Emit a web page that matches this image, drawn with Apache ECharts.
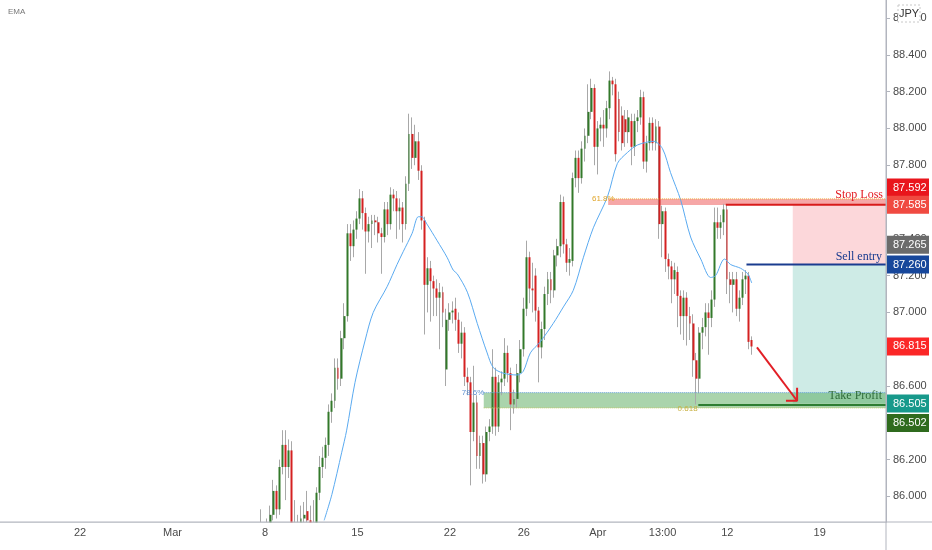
<!DOCTYPE html>
<html><head><meta charset="utf-8">
<script src="https://cdn.jsdelivr.net/npm/echarts@6/dist/echarts.min.js"></script>
<style>html,body{margin:0;padding:0;background:#fff}#c{width:932px;height:550px}</style>
</head><body><div id="c"></div>
<script>
// ---------- DATA ----------
const categoryCount = 287;
const firstIndex = 84;
const opens = [
85.70,85.80,85.76,85.83,85.90,86.03,85.93,86.16,86.28,86.16,
86.25,85.70,85.74,85.80,85.88,85.92,85.87,85.80,85.83,86.02,
86.16,86.21,86.28,86.46,86.52,86.70,86.64,86.86,86.98,87.43,
87.36,87.45,87.51,87.62,87.54,87.44,87.48,87.50,87.49,87.43,
87.41,87.56,87.48,87.64,87.62,87.55,87.57,87.48,87.70,87.97,
87.84,87.93,87.77,87.50,87.15,87.24,87.17,87.13,87.08,87.11,
86.69,86.96,87.00,87.02,86.96,86.83,86.89,86.65,86.62,86.35,
86.51,86.22,86.29,86.12,86.35,86.38,86.65,86.38,86.62,86.64,
86.78,86.67,86.50,86.53,86.67,86.80,87.02,87.30,87.13,87.20,
87.01,86.81,86.91,87.10,87.18,87.12,87.31,87.36,87.60,87.37,
87.27,87.28,87.73,87.84,87.73,87.89,87.96,88.09,88.22,87.90,
88.00,88.02,88.00,88.11,88.26,88.24,88.16,88.07,88.05,87.98,
88.04,87.90,88.04,88.06,88.17,87.82,87.92,88.03,87.92,88.01,
87.48,87.55,87.29,87.25,87.18,87.22,87.09,86.98,87.08,86.98,
86.94,86.74,86.64,86.89,86.92,87.00,86.97,87.07,87.49,87.46,
87.49,87.56,87.18,87.15,87.18,87.02,87.08,87.18,87.20,86.85];
const closes = [
85.80,85.76,85.83,85.90,86.03,85.93,86.16,86.28,86.16,86.25,
85.70,85.74,85.80,85.88,85.90,85.87,85.84,85.83,86.02,86.16,
86.21,86.28,86.46,86.52,86.70,86.64,86.86,86.98,87.43,87.36,
87.45,87.51,87.62,87.54,87.44,87.48,87.50,87.49,87.43,87.41,
87.56,87.48,87.64,87.62,87.55,87.57,87.48,87.70,87.97,87.84,
87.93,87.77,87.50,87.15,87.24,87.17,87.13,87.08,87.11,87.00,
86.96,87.00,87.01,86.96,86.83,86.89,86.65,86.62,86.35,86.51,
86.22,86.29,86.12,86.35,86.38,86.65,86.38,86.62,86.64,86.78,
86.67,86.50,86.53,86.67,86.80,87.02,87.30,87.13,87.12,87.01,
86.81,86.91,87.10,87.18,87.12,87.31,87.36,87.60,87.37,87.27,
87.29,87.73,87.84,87.73,87.89,87.96,88.09,88.22,87.90,88.00,
88.02,88.00,88.11,88.26,88.24,87.86,87.98,87.92,87.98,88.06,
87.90,88.04,88.06,88.17,87.82,87.92,88.03,87.92,88.01,87.48,
87.55,87.29,87.25,87.18,87.23,87.09,86.98,87.08,86.98,86.94,
86.74,86.64,86.89,86.92,87.00,86.97,87.07,87.49,87.46,87.49,
87.56,87.18,87.15,87.18,87.02,87.08,87.18,87.20,86.84,86.815];
const lows = [
85.62,85.68,85.70,85.78,85.87,85.88,85.90,86.12,85.98,86.10,
85.60,85.60,85.66,85.72,85.80,85.80,85.75,85.70,85.80,85.98,
86.10,86.15,86.22,86.40,86.48,86.58,86.60,86.80,86.95,87.28,
87.30,87.40,87.48,87.45,87.21,87.38,87.35,87.42,87.38,87.21,
87.38,87.42,87.45,87.55,87.40,87.45,87.38,87.45,87.66,87.78,
87.80,87.72,87.45,86.88,87.00,86.95,86.98,86.98,86.80,86.92,
86.60,86.90,86.94,86.90,86.78,86.75,86.60,86.55,86.06,86.30,
86.15,86.15,86.07,86.08,86.30,86.34,86.33,86.35,86.55,86.60,
86.62,86.36,86.45,86.48,86.62,86.76,86.98,87.05,87.00,86.95,
86.62,86.75,86.85,87.04,87.05,87.08,87.25,87.30,87.32,87.22,
87.20,87.25,87.68,87.65,87.70,87.82,87.92,88.05,87.80,87.75,
87.93,87.90,87.95,88.05,88.18,87.82,87.93,87.88,87.90,87.92,
87.80,87.85,87.98,88.02,87.78,87.76,87.88,87.88,87.88,87.40,
87.30,87.22,87.18,87.05,87.10,86.92,86.88,86.85,86.82,86.85,
86.65,86.50,86.56,86.80,86.87,86.77,86.92,87.03,87.40,87.40,
87.42,87.10,87.05,87.00,86.98,86.95,87.04,87.10,86.80,86.77];
const highs = [
85.93,85.86,85.88,85.95,86.09,86.06,86.20,86.36,86.36,86.31,
86.30,85.98,85.90,85.95,85.97,86.03,85.95,85.98,86.05,86.22,
86.27,86.32,86.50,86.56,86.75,86.75,86.90,87.05,87.48,87.48,
87.50,87.55,87.67,87.66,87.57,87.52,87.53,87.53,87.52,87.46,
87.60,87.60,87.68,87.67,87.66,87.62,87.60,87.74,88.08,88.06,
88.02,87.98,87.80,87.52,87.30,87.28,87.20,87.18,87.16,87.14,
87.02,87.05,87.06,87.08,87.00,86.95,86.92,86.70,86.65,86.71,
86.55,86.33,86.33,86.38,86.42,86.80,86.70,86.66,86.68,86.86,
86.82,86.70,86.58,86.72,86.85,87.08,87.39,87.33,87.27,87.24,
87.03,86.95,87.14,87.22,87.22,87.34,87.40,87.64,87.63,87.40,
87.35,87.76,87.88,87.88,87.93,88.00,88.24,88.27,88.24,88.04,
88.06,88.10,88.15,88.31,88.28,88.27,88.20,88.12,88.10,88.10,
88.08,88.08,88.10,88.21,88.20,87.96,88.06,88.06,88.05,88.04,
87.58,87.57,87.32,87.28,87.27,87.25,87.12,87.12,87.11,87.03,
86.99,86.78,86.92,86.97,87.05,87.05,87.12,87.57,87.57,87.53,
87.59,87.59,87.22,87.22,87.22,87.12,87.22,87.23,87.22,86.87];

// EMA: candle position and price
const emaX = [104.5,107,110.2,111.8,114.5,117.8,120.4,124.9,128.1,130.1,133,135,136.1,137.8,141.1,144.3,146.3,147.6,150.9,154.1,157.3,159.3,162.5,167,169,171.3,174.5,178.7,182,185.2,188.5,191.7,196.3,199.5,202.8,206,211.2,214.1,216.7,220,223.2,226.5,229.7,231.3,234.2,236.2,239.4,241.7,243];
const emaY = [85.87,86.01,86.24,86.36,86.62,86.85,87.00,87.14,87.26,87.33,87.43,87.52,87.52,87.48,87.39,87.30,87.23,87.21,87.11,86.94,86.78,86.70,86.67,86.66,86.68,86.78,86.84,86.94,87.03,87.12,87.30,87.46,87.63,87.81,87.87,87.91,87.93,87.89,87.76,87.61,87.41,87.29,87.19,87.20,87.29,87.26,87.24,87.21,87.16];

const xTickIndex = [25,55,85,115,145,169,193,214,235,265];
const xTickLabel = ['22','Mar','8','15','22','26','Apr','13:00','12','19'];
const yTicks = [86.0,86.2,86.4,86.6,86.8,87.0,87.2,87.4,87.6,87.8,88.0,88.2,88.4,88.6];
const yMin = 85.861, yMax = 88.698;

// trade levels (prices) and where they start (candle position)
const stopLossLevel = 87.585, entryLevel = 87.26, takeProfitLevel = 86.505, swingLowLevel = 86.497;
const stopLossStart = 234.6, entryStart = 241.3, swingLowStart = 225.7, boxStart = 256.3;
const fib618 = {start: 196.5, top: 87.617, bottom: 87.584};
const fib786 = {start: 156.2, top: 86.564, bottom: 86.481};
const arrowShaft = [[244.7, 86.81], [257.7, 86.52]];
const arrowHead = [[257.7, 86.59], [257.7, 86.52], [254.1, 86.52]];

const tagValues = [87.592, 87.585, 87.265, 87.260, 86.815, 86.505, 86.502];
// ---------- STYLE ----------
const tagColors = ['#e9151c','#f04a41','#6b6b6b','#17479b','#fb2727','#17998b','#2f6b1e'];
const tagShift = [-16, 0, -19, 0, 0, 0, 19];
const upColor = '#33792a', downColor = '#d42121', wickColor = '#a8a8a8';
const axisColor = '#b2b5be', textColor = '#4a4a4a';
const FONT = '"Liberation Sans", Arial, sans-serif';

// ---------- BUILD ----------
const chart = echarts.init(document.getElementById('c'));
const xEnd = categoryCount - 0.5;
const categories = Array.from({length: categoryCount}, (_, i) => {
  const k = xTickIndex.indexOf(i); return k >= 0 ? xTickLabel[k] : '';
});
const wickData = [], bodyData = [];
for (let i = 0; i < categoryCount; i++) {
  const k = i - firstIndex;
  if (k >= 0 && k < opens.length) {
    wickData.push([opens[k], closes[k], lows[k], highs[k]]);
    bodyData.push([opens[k], closes[k], Math.min(opens[k], closes[k]), Math.max(opens[k], closes[k])]);
  } else {
    wickData.push(['-','-','-','-']); bodyData.push(['-','-','-','-']);
  }
}
const hLine = (start, v) => [[start, v], [xEnd, v]];
const lineSeries = (data, color, width, type, z) => ({
  type: 'line', xAxisIndex: 1, yAxisIndex: 0, data, symbol: 'none', silent: true, animation: false, clip: true,
  z: z || 4, lineStyle: {color, width, type: type || 'solid'}
});

chart.setOption({
  animation: false,
  backgroundColor: '#fff',
  grid: {left: 0, right: 46, top: 0, bottom: 28, containLabel: false},
  xAxis: [
    {type: 'category', data: categories, boundaryGap: true,
     axisLine: {show: true, onZero: false, lineStyle: {color: axisColor}}, axisTick: {show: false},
     axisLabel: {interval: 0, color: textColor, fontSize: 11, fontFamily: FONT, margin: 6},
     splitLine: {show: false}},
    {type: 'value', min: -0.5, max: xEnd, show: false, axisLine: {onZero: false}}
  ],
  yAxis: {
    type: 'value', position: 'right', min: yMin, max: yMax, scale: true,
    axisLine: {show: true, onZero: false, lineStyle: {color: axisColor}},
    axisTick: {show: true, customValues: yTicks, length: 4, lineStyle: {color: axisColor}},
    axisLabel: {customValues: yTicks, formatter: v => v.toFixed(3), color: textColor, fontSize: 11, fontFamily: FONT, margin: 7},
    splitLine: {show: false}
  },
  series: [
    Object.assign(lineSeries([], 'transparent', 0), {
      z: 1,
      markArea: {silent: true, z: 1, data: [
        [{xAxis: boxStart, yAxis: stopLossLevel, itemStyle: {color: 'rgba(242,54,69,0.2)'}}, {xAxis: xEnd, yAxis: entryLevel}],
        [{xAxis: boxStart, yAxis: entryLevel, itemStyle: {color: 'rgba(8,153,129,0.2)'}}, {xAxis: xEnd, yAxis: takeProfitLevel}],
        [{xAxis: fib618.start, yAxis: fib618.top, itemStyle: {color: 'rgba(235,60,60,0.45)'}}, {xAxis: xEnd, yAxis: fib618.bottom}],
        [{xAxis: fib786.start, yAxis: fib786.top, itemStyle: {color: 'rgba(67,160,71,0.45)'}}, {xAxis: xEnd, yAxis: fib786.bottom}]
      ]}
    }),
    {type: 'candlestick', data: wickData, barWidth: 1, z: 2, silent: true, clip: true,
     itemStyle: {color: wickColor, color0: wickColor, borderColor: wickColor, borderColor0: wickColor, borderWidth: 1}},
    {type: 'candlestick', data: bodyData, barWidth: 2.4, z: 3, silent: true, clip: true,
     itemStyle: {color: upColor, color0: downColor, borderColor: upColor, borderColor0: downColor, borderWidth: 0}},
    Object.assign(lineSeries(emaX.map((x, i) => [x, emaY[i]]), '#5aaaf0', 1, 'solid', 4), {smooth: 0.3}),
    lineSeries(hLine(fib618.start, fib618.top), '#f0a030', 1, 'dotted', 4),
    lineSeries(hLine(fib786.start, fib786.top), '#5b9bd5', 1, 'dotted', 4),
    lineSeries(hLine(fib786.start, fib786.bottom), '#c2c86a', 1, 'dotted', 4),
    lineSeries(hLine(stopLossStart, stopLossLevel), '#d81b1b', 2, 'solid', 5),
    lineSeries(hLine(entryStart, entryLevel), '#1a3c8f', 2, 'solid', 5),
    lineSeries(hLine(swingLowStart, swingLowLevel), '#2e7d32', 2, 'solid', 5),
    lineSeries(arrowShaft, '#e21f26', 2, 'solid', 6),
    lineSeries(arrowHead, '#e21f26', 2, 'solid', 6)
  ]
});

const px = i => chart.convertToPixel({xAxisIndex: 1}, i);
const py = v => chart.convertToPixel({yAxisIndex: 0}, v);
const plotRight = px(xEnd), plotBottom = py(yMin);
const txt = (text, x, y, fill, font, align) => ({type: 'text', silent: true, z: 100,
  style: {text, x, y, fill, font, align: align || 'left', verticalAlign: 'middle', textAlign: align || 'left', textVerticalAlign: 'middle'}});
const graphics = [];
// white cover below plot so clipped candles never leak into the axis area
graphics.push({type: 'rect', silent: true, z: 80, shape: {x: 0, y: plotBottom + 0.5, width: plotRight, height: 550 - plotBottom}, style: {fill: '#fff'}});
graphics.push({type: 'line', silent: true, z: 90, shape: {x1: 0, y1: plotBottom, x2: 932, y2: plotBottom}, style: {stroke: axisColor, lineWidth: 1}});
graphics.push({type: 'line', silent: true, z: 90, shape: {x1: plotRight, y1: 0, x2: plotRight, y2: 550}, style: {stroke: axisColor, lineWidth: 1}});
xTickIndex.forEach((i, k) => graphics.push(txt(xTickLabel[k], px(i), plotBottom + 11, textColor, '11px ' + FONT, 'center')));
tagValues.forEach((v, k) => {
  const cy = py(v) + tagShift[k];
  graphics.push({type: 'rect', silent: true, z: 95, shape: {x: plotRight + 1, y: cy - 9, width: 42, height: 18}, style: {fill: tagColors[k]}});
  graphics.push(txt(v.toFixed(3), plotRight + 7, cy, '#ffffff', '11px ' + FONT));
});
graphics.push({type: 'rect', silent: true, z: 96, shape: {x: 898, y: 5, width: 22, height: 17}, style: {fill: '#fff', stroke: '#c8c8c8', lineDash: [2, 2]}});
graphics.push(txt('JPY', 909, 13.5, '#333', '11px ' + FONT, 'center'));
graphics.push(txt('EMA', 8, 12, '#777', '8px ' + FONT));
const SERIF = '12px "Liberation Serif", "DejaVu Serif", serif';
graphics.push(txt('Stop Loss', plotRight - 3, py(stopLossLevel) - 10, '#e3191f', SERIF, 'right'));
graphics.push(txt('Sell entry', plotRight - 4, py(entryLevel) - 8, '#1a3c8f', SERIF, 'right'));
graphics.push(txt('Take Profit', plotRight - 4, py(takeProfitLevel) - 8, '#2e6b3a', SERIF, 'right'));
graphics.push(txt('61.8%', px(fib618.start) + 6, py(fib618.top), '#e0a52a', '8px ' + FONT, 'right'));
graphics.push(txt('78.6%', px(fib786.start), py(fib786.top), '#5b8fd0', '8px ' + FONT, 'right'));
graphics.push(txt('0.618', px(swingLowStart) - 1, py(fib786.bottom) + 1, '#c8b040', '8px ' + FONT, 'right'));
chart.setOption({graphic: graphics, xAxis: [{axisLabel: {show: false}}, {}]});
</script></body></html>
